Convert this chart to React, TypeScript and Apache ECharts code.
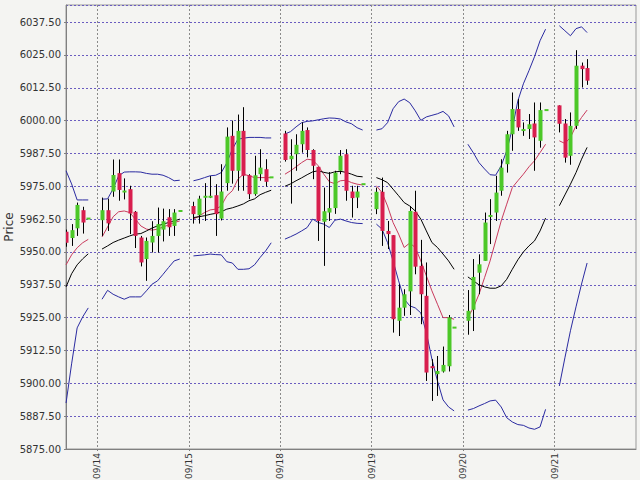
import React, { useEffect, useRef } from "react";
import * as echarts from "echarts";

// Trading days shown on the axis (first one is only partly visible)
const dayLabels = ["09/13", "09/14", "09/15", "09/18", "09/19", "09/20", "09/21"];
// index of the first candle of each day that is kept (09/13 starts at its 11th bar)
const firstBar = [10, 0, 0, 0, 0, 0, 0];

// candles per day: [open, close, low, high]
const c0913 = [
  [5957.7, 5953.5, 5952.0, 5958.5],
  [5955.3, 5958.3, 5952.3, 5960.6],
  [5959.0, 5967.9, 5956.1, 5968.8],
  [5965.9, 5961.2, 5957.0, 5967.2],
  [5962.7, 5962.7, 5962.7, 5962.7],
];
const c0914 = [
  [5962.1, 5965.9, 5956.1, 5970.7],
  [5965.9, 5960.9, 5958.0, 5970.3],
  [5973.0, 5979.3, 5971.0, 5985.2],
  [5980.0, 5973.6, 5969.5, 5985.2],
  [5973.0, 5973.0, 5970.0, 5978.0],
  [5973.9, 5964.6, 5956.8, 5975.2],
  [5965.3, 5956.1, 5951.5, 5965.6],
  [5955.5, 5946.0, 5944.5, 5956.1],
  [5947.3, 5954.2, 5939.0, 5955.5],
  [5953.6, 5956.1, 5949.8, 5961.7],
  [5956.1, 5960.6, 5949.8, 5966.9],
  [5958.5, 5961.7, 5954.0, 5966.5],
  [5963.2, 5959.4, 5956.1, 5966.3],
  [5959.9, 5965.0, 5956.1, 5966.3],
  [5965.6, 5965.6, 5965.6, 5965.6],
];
const c0915 = [
  [5967.5, 5964.4, 5960.8, 5969.1],
  [5964.0, 5970.3, 5960.8, 5971.4],
  [5971.0, 5971.0, 5961.8, 5976.2],
  [5971.0, 5971.0, 5970.5, 5978.9],
  [5971.6, 5964.4, 5956.1, 5975.8],
  [5962.7, 5973.0, 5962.0, 5983.4],
  [5976.2, 5993.9, 5973.3, 5997.4],
  [5994.2, 5980.9, 5976.0, 6000.0],
  [5980.9, 5996.1, 5973.3, 6002.3],
  [5996.1, 5979.0, 5973.3, 6005.1],
  [5979.2, 5972.0, 5970.1, 5979.6],
  [5972.0, 5979.2, 5971.4, 5986.6],
  [5979.6, 5982.1, 5977.1, 5989.1],
  [5981.5, 5976.7, 5974.9, 5985.3],
  [5978.4, 5978.4, 5978.4, 5978.4],
];
const c0918 = [
  [5995.1, 5985.0, 5984.4, 5996.1],
  [5985.3, 5986.6, 5968.4, 5992.9],
  [5987.2, 5990.8, 5980.9, 5994.8],
  [5991.0, 5996.1, 5987.8, 5999.3],
  [5996.4, 5988.8, 5986.0, 5997.4],
  [5988.8, 5982.8, 5977.7, 5989.1],
  [5982.4, 5961.8, 5954.2, 5982.4],
  [5961.5, 5965.5, 5944.7, 5974.5],
  [5965.0, 5966.7, 5961.8, 5980.4],
  [5966.7, 5980.2, 5964.5, 5980.9],
  [5980.9, 5986.6, 5979.6, 5988.8],
  [5987.2, 5973.3, 5969.5, 5989.1],
  [5973.0, 5970.5, 5963.1, 5975.2],
  [5970.7, 5973.0, 5966.7, 5975.2],
  [5975.8, 5975.8, 5975.8, 5975.8],
];
const c0919 = [
  [5966.3, 5972.9, 5964.4, 5974.5],
  [5972.9, 5958.0, 5952.3, 5978.3],
  [5958.0, 5956.8, 5951.1, 5961.8],
  [5956.4, 5924.4, 5919.3, 5956.4],
  [5923.8, 5928.8, 5918.0, 5937.7],
  [5928.8, 5933.9, 5925.7, 5935.8],
  [5935.0, 5965.6, 5926.0, 5967.5],
  [5965.3, 5944.4, 5941.5, 5973.3],
  [5944.7, 5933.9, 5922.5, 5954.6],
  [5933.3, 5904.1, 5900.9, 5946.0],
  [5906.4, 5905.9, 5893.3, 5909.2],
  [5903.5, 5904.7, 5895.2, 5910.4],
  [5904.5, 5907.0, 5904.1, 5914.0],
  [5906.5, 5925.1, 5904.5, 5926.0],
  [5921.2, 5921.2, 5921.2, 5921.2],
];
const c0920 = [
  [5923.8, 5927.6, 5918.5, 5935.5],
  [5928.0, 5940.5, 5919.9, 5947.3],
  [5942.1, 5945.3, 5933.9, 5949.1],
  [5946.6, 5961.2, 5946.6, 5965.0],
  [5963.7, 5963.7, 5953.0, 5970.1],
  [5965.0, 5972.6, 5961.8, 5979.0],
  [5973.3, 5982.1, 5971.4, 5985.3],
  [5983.4, 5994.8, 5980.2, 5996.1],
  [5994.8, 6004.4, 5988.5, 6010.7],
  [6004.4, 5997.4, 5996.1, 6008.2],
  [5996.4, 5996.4, 5994.2, 5999.3],
  [5996.8, 5998.6, 5993.0, 6002.5],
  [5998.9, 5993.6, 5980.9, 6006.9],
  [5992.3, 6004.0, 5989.7, 6006.9],
  [6004.0, 6004.0, 6004.0, 6004.0],
];
const c0921 = [
  [6005.8, 5998.8, 5995.5, 6005.8],
  [5998.9, 5985.9, 5984.0, 6000.6],
  [5986.6, 5998.0, 5983.2, 6003.1],
  [5998.0, 6020.9, 5996.8, 6026.8],
  [6020.9, 6019.6, 6012.6, 6022.1],
  [6020.0, 6015.2, 6013.6, 6023.4],
];
const candlesByDay = [c0913, c0914, c0915, c0918, c0919, c0920, c0921];

// Bollinger upper band per day
const upperByDay = [
  [5980.9, 5975.9, 5969.8, 5969.8, 5969.8],
  [5970.1, 5970.2, 5974.0, 5979.0, 5980.4, 5980.5, 5980.5, 5980.4, 5979.9, 5979.6, 5979.6, 5979.2, 5978.3, 5977.1, 5977.3],
  [5977.1, 5977.6, 5978.3, 5979.0, 5979.2, 5980.2, 5983.9, 5989.1, 5992.9, 5993.3, 5993.6, 5993.6, 5993.6, 5993.4, 5993.4],
  [5994.9, 5995.8, 5997.6, 5999.2, 5999.7, 5999.9, 6000.3, 6000.7, 6001.0, 6000.9, 6000.6, 5999.5, 5998.8, 5997.3, 5996.4],
  [5996.4, 5996.9, 5999.2, 6004.5, 6007.2, 6008.2, 6006.8, 6003.7, 6000.1, 6001.4, 6002.0, 6002.6, 6003.5, 6001.8, 5997.6],
  [5991.0, 5987.7, 5984.0, 5981.6, 5979.4, 5979.2, 5982.8, 5988.5, 5996.9, 6007.5, 6014.0, 6019.0, 6024.3, 6030.4, 6034.8],
  [6036.1, 6034.2, 6032.3, 6035.0, 6035.7, 6033.5],
];
// Bollinger lower band per day
const lowerByDay = [
  [5892.5, 5907.4, 5921.1, 5925.3, 5928.7],
  [5932.0, 5935.4, 5933.9, 5932.9, 5932.0, 5932.9, 5932.9, 5932.9, 5935.2, 5937.7, 5939.0, 5941.5, 5944.1, 5946.6, 5947.3],
  [5948.5, 5948.7, 5948.9, 5949.2, 5949.0, 5948.9, 5946.3, 5945.8, 5943.4, 5943.4, 5943.6, 5945.1, 5947.9, 5950.4, 5953.5],
  [5954.9, 5955.8, 5956.8, 5958.0, 5959.3, 5962.5, 5961.2, 5960.6, 5959.3, 5962.1, 5962.5, 5961.8, 5961.2, 5960.9, 5960.8],
  [5960.6, 5958.7, 5953.6, 5946.6, 5939.0, 5932.1, 5929.5, 5928.7, 5926.8, 5919.3, 5909.2, 5900.9, 5893.7, 5891.0, 5889.5],
  [5889.8, 5890.4, 5891.4, 5892.3, 5893.3, 5893.6, 5891.0, 5886.9, 5885.3, 5884.3, 5884.0, 5883.0, 5882.5, 5883.4, 5890.1],
  [5899.0, 5909.7, 5920.0, 5929.1, 5937.8, 5945.8],
];
// middle (red) moving average per day
const midByDay = [
  [5945.1, 5948.9, 5951.6, 5953.5, 5954.8],
  [5955.7, 5959.5, 5963.4, 5965.3, 5965.6, 5965.0, 5962.5, 5959.9, 5958.7, 5958.3, 5958.7, 5959.5, 5960.3, 5961.2, 5961.8],
  [5962.5, 5963.7, 5965.0, 5966.0, 5966.3, 5967.5, 5971.4, 5973.3, 5977.7, 5979.6, 5979.0, 5978.3, 5978.3, 5978.3, 5978.3],
  [5979.6, 5980.9, 5982.4, 5984.0, 5985.3, 5985.0, 5982.8, 5979.6, 5976.7, 5976.0, 5977.1, 5977.3, 5976.4, 5975.8, 5975.5],
  [5975.2, 5972.6, 5967.5, 5961.2, 5956.8, 5951.7, 5953.4, 5951.7, 5946.6, 5940.9, 5935.2, 5930.1, 5925.0, 5925.0, 5924.4],
  [5925.0, 5928.8, 5933.9, 5940.2, 5946.6, 5954.2, 5961.8, 5968.2, 5974.5, 5977.1, 5979.6, 5982.4, 5984.7, 5987.8, 5991.0],
  [5992.3, 5991.3, 5993.6, 5998.0, 6001.2, 6004.0],
];
// slow (black) moving average per day
const slowByDay = [
  [5936.7, 5941.7, 5945.1, 5947.4, 5949.3],
  [5951.1, 5952.3, 5953.6, 5954.5, 5955.3, 5956.1, 5956.8, 5957.0, 5958.0, 5959.1, 5959.9, 5960.6, 5961.2, 5961.8, 5962.5],
  [5963.1, 5963.4, 5963.8, 5964.3, 5964.7, 5965.3, 5966.3, 5966.8, 5967.5, 5968.3, 5969.5, 5970.2, 5971.8, 5972.7, 5973.5],
  [5975.0, 5975.9, 5977.1, 5978.2, 5979.4, 5980.5, 5980.9, 5980.3, 5979.9, 5980.5, 5980.7, 5980.3, 5979.6, 5978.8, 5978.6],
  [5978.3, 5977.5, 5976.4, 5973.9, 5971.4, 5968.8, 5967.5, 5965.6, 5962.5, 5958.0, 5953.6, 5951.7, 5949.2, 5946.6, 5943.4],
  [5940.5, 5939.0, 5937.5, 5936.7, 5936.2, 5936.2, 5937.1, 5939.6, 5943.4, 5947.0, 5950.0, 5952.3, 5954.2, 5958.0, 5962.9],
  [5967.6, 5971.7, 5975.8, 5980.2, 5985.3, 5989.8],
];

// price axis ticks
const priceMin = 5875;
const priceStep = 12.5;

// layout of the segmented time line (in bar slots)
const DAY_SLOTS = 16.48;
const BAR_OFFSET = 0.85;
const X_MIN = 10.84;
const X_MAX = 113.54;

const barX = (d: number, k: number) => d * DAY_SLOTS + BAR_OFFSET + firstBar[d] + k;

const UP = "#4cc828";
const DOWN = "#d81e4e";

export default function App() {
  const ref = useRef<HTMLDivElement>(null);
  useEffect(() => {
    if (!ref.current) return;
    const chart = echarts.init(ref.current, null, { renderer: "svg" });

    const candleData: any[] = [];
    candlesByDay.forEach((day, d) =>
      day.forEach((c, k) => candleData.push([barX(d, k), c[0], c[1], c[2], c[3]]))
    );
    const lineData = (arrs: number[][]) => {
      const out: any[] = [];
      arrs.forEach((day, d) => {
        day.forEach((v, k) => out.push([barX(d, k), v]));
        out.push([barX(d, day.length - 1) + 0.5, "-"]);
      });
      return out;
    };
    const dayTicks = dayLabels.map((_, i) => i * DAY_SLOTS).slice(1);

    const lineSeries = (name: string, arrs: number[][], color: string) => ({
      name,
      type: "line",
      data: lineData(arrs),
      showSymbol: false,
      symbol: "none",
      connectNulls: false,
      lineStyle: { color, width: 1 },
      z: 2,
      silent: true,
    });

    chart.setOption({
      animation: false,
      backgroundColor: "#f4f4f2",
      textStyle: { fontFamily: "DejaVu Sans" },
      grid: {
        left: 66,
        top: 5,
        width: 570,
        height: 444,
        show: true,
        borderColor: "#999999",
        borderWidth: 1,
        backgroundColor: "#f4f4f2",
        containLabel: false,
        outerBoundsMode: "none",
      },
      xAxis: {
        type: "value",
        min: X_MIN,
        max: X_MAX,
        axisLine: { show: true, lineStyle: { color: "#808080" } },
        axisTick: { show: true, length: 2, customValues: dayTicks, lineStyle: { color: "#808080" } },
        axisLabel: {
          customValues: dayTicks,
          rotate: 90,
          margin: 4,
          fontSize: 9,
          color: "#333",
          fontFamily: "DejaVu Sans",
          hideOverlap: false,
          formatter: (v: number) => dayLabels[Math.round(v / DAY_SLOTS)] || "",
        },
        splitLine: { show: true, lineStyle: { color: "#8a8a8a", type: [2, 2], width: 1 } },
      },
      yAxis: {
        type: "value",
        min: priceMin,
        max: 6044,
        interval: priceStep,
        name: "Price",
        nameLocation: "middle",
        nameRotate: 90,
        nameGap: 51,
        nameMoveOverlap: false,
        nameTextStyle: { fontSize: 12, color: "#333", fontFamily: "DejaVu Sans" },
        axisLine: { show: true, lineStyle: { color: "#808080" } },
        axisTick: { show: true, length: 2, lineStyle: { color: "#808080" } },
        axisLabel: {
          showMaxLabel: false,
          fontSize: 10,
          color: "#333",
          margin: 5,
          fontFamily: "DejaVu Sans",
          formatter: (v: number) =>
            Math.abs(((v - priceMin) / priceStep) - Math.round((v - priceMin) / priceStep)) < 1e-6
              ? v.toFixed(2)
              : "",
        },
        splitLine: { show: true, lineStyle: { color: "#6a5cc0", type: [2, 2], width: 1 } },
      },
      series: [
        lineSeries("upper", upperByDay, "#2a2aa0"),
        lineSeries("lower", lowerByDay, "#2a2aa0"),
        lineSeries("mid", midByDay, "#c83a5c"),
        lineSeries("slow", slowByDay, "#000000"),
        {
          name: "candles",
          type: "custom",
          clip: true,
          z: 3,
          data: candleData,
          encode: { x: 0, y: [1, 2, 3, 4] },
          renderItem: (params: any, api: any) => {
            const x = api.value(0);
            const o = api.value(1);
            const c = api.value(2);
            const l = api.value(3);
            const h = api.value(4);
            const pO = api.coord([x, o]);
            const pC = api.coord([x, c]);
            const pL = api.coord([x, l]);
            const pH = api.coord([x, h]);
            const w = Math.round(api.size([1, 0])[0] * 0.72);
            const cx = Math.round(pO[0]);
            const up = c >= o;
            let top = Math.min(pO[1], pC[1]);
            let hgt = Math.abs(pO[1] - pC[1]);
            if (hgt < 2) {
              top = (pO[1] + pC[1]) / 2 - 1;
              hgt = 2;
            }
            const children: any[] = [];
            if (h !== l) {
              children.push({
                type: "line",
                shape: { x1: cx + 0.5, y1: pH[1], x2: cx + 0.5, y2: pL[1] },
                style: { stroke: "#000", lineWidth: 1 },
              });
            }
            children.push({
              type: "rect",
              shape: { x: cx + 0.5 - w / 2, y: top, width: w, height: hgt },
              style: { fill: up ? UP : DOWN, stroke: null },
            });
            return { type: "group", children };
          },
        },
      ],
    });
    return () => chart.dispose();
  }, []);
  return (
    <div
      ref={ref}
      style={{ position: "absolute", left: 0, top: 0, width: 640, height: 480 }}
    />
  );
}
